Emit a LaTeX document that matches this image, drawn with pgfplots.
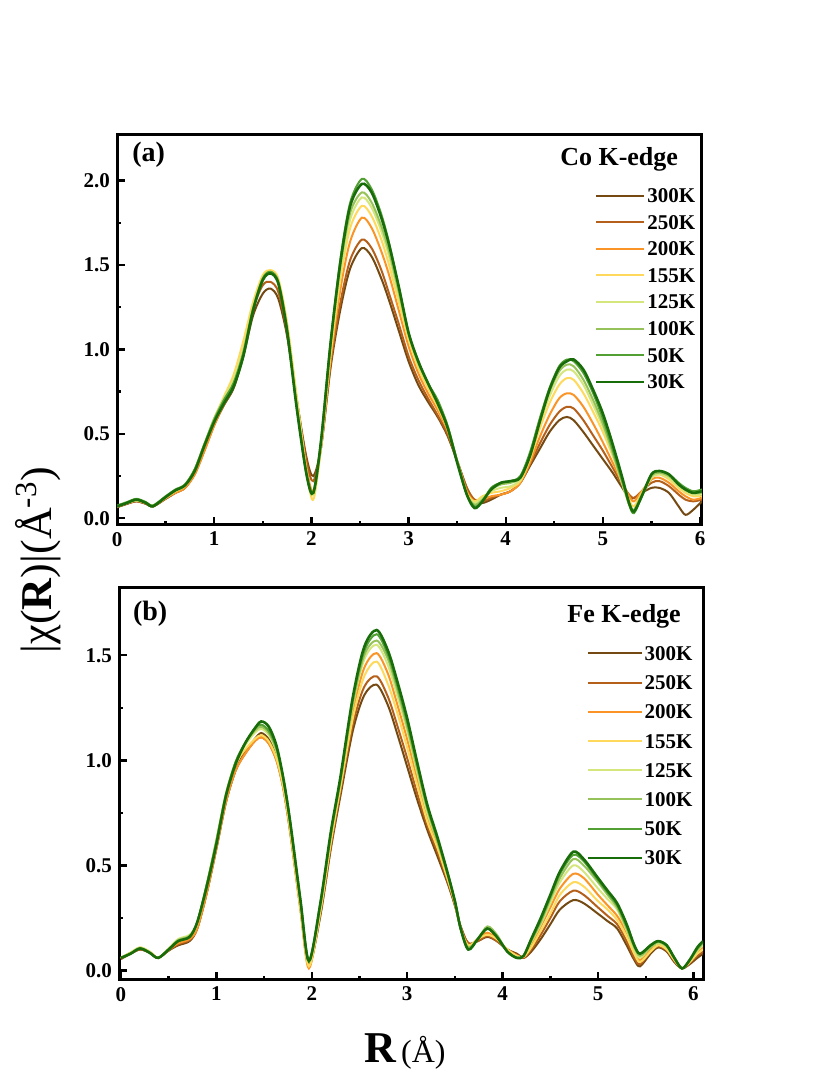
\documentclass[border=0pt]{standalone}
\usepackage{fontspec}
\setmainfont{Liberation Serif}
\usepackage{pgfplots}
\usepackage{pgfplotstable}
\pgfplotsset{compat=1.18}

\definecolor{k300}{HTML}{744A12}
\definecolor{k250}{HTML}{B5601A}
\definecolor{k200}{HTML}{FA9426}
\definecolor{k155}{HTML}{FFD95C}
\definecolor{k125}{HTML}{D5E67C}
\definecolor{k100}{HTML}{96C25A}
\definecolor{k50}{HTML}{52A034}
\definecolor{k30}{HTML}{186C0A}

% Co K-edge
\pgfplotstableread{
R s300 s250 s200 s155 s125 s100 s50 s30
0.00 0.065 0.065 0.07 0.07 0.07 0.07 0.075 0.07
0.10 0.085 0.085 0.09 0.09 0.09 0.09 0.095 0.09
0.20 0.10 0.10 0.105 0.105 0.105 0.11 0.115 0.11
0.30 0.085 0.085 0.09 0.09 0.09 0.09 0.095 0.09
0.37 0.07 0.07 0.07 0.075 0.075 0.075 0.075 0.07
0.50 0.115 0.115 0.12 0.12 0.125 0.125 0.13 0.125
0.60 0.15 0.15 0.15 0.16 0.16 0.165 0.17 0.165
0.70 0.18 0.18 0.18 0.19 0.195 0.20 0.20 0.195
0.80 0.27 0.26 0.26 0.28 0.29 0.29 0.29 0.28
0.90 0.41 0.40 0.40 0.43 0.44 0.44 0.44 0.43
1.00 0.56 0.55 0.55 0.59 0.59 0.59 0.58 0.57
1.10 0.67 0.67 0.68 0.72 0.71 0.70 0.70 0.68
1.20 0.77 0.78 0.80 0.85 0.82 0.80 0.80 0.78
1.30 0.96 0.98 1.00 1.05 1.00 0.98 0.98 0.96
1.40 1.20 1.24 1.26 1.28 1.25 1.24 1.24 1.23
1.50 1.33 1.38 1.42 1.44 1.42 1.42 1.42 1.41
1.58 1.36 1.40 1.46 1.47 1.46 1.45 1.46 1.45
1.66 1.30 1.34 1.40 1.42 1.40 1.40 1.40 1.39
1.75 1.08 1.10 1.14 1.16 1.13 1.12 1.12 1.11
1.85 0.70 0.70 0.70 0.72 0.68 0.67 0.66 0.65
1.95 0.36 0.34 0.30 0.28 0.27 0.27 0.26 0.26
2.02 0.25 0.22 0.16 0.11 0.14 0.15 0.15 0.15
2.10 0.42 0.42 0.42 0.42 0.44 0.45 0.46 0.46
2.20 0.90 0.92 0.95 0.98 1.02 1.04 1.05 1.05
2.30 1.24 1.28 1.36 1.42 1.46 1.50 1.54 1.52
2.40 1.48 1.53 1.64 1.72 1.77 1.81 1.87 1.85
2.52 1.60 1.65 1.78 1.85 1.90 1.93 2.01 1.98
2.62 1.55 1.60 1.72 1.79 1.84 1.87 1.95 1.93
2.72 1.42 1.47 1.58 1.65 1.70 1.73 1.80 1.78
2.80 1.29 1.33 1.44 1.50 1.55 1.58 1.63 1.62
2.90 1.11 1.15 1.23 1.28 1.32 1.34 1.37 1.37
3.00 0.93 0.96 1.02 1.06 1.08 1.09 1.10 1.10
3.10 0.79 0.82 0.86 0.89 0.91 0.92 0.93 0.93
3.20 0.69 0.71 0.74 0.77 0.79 0.80 0.80 0.80
3.30 0.60 0.61 0.64 0.66 0.69 0.69 0.70 0.68
3.40 0.49 0.50 0.52 0.53 0.55 0.55 0.55 0.54
3.50 0.34 0.34 0.34 0.34 0.34 0.34 0.34 0.33
3.60 0.18 0.18 0.16 0.15 0.14 0.14 0.14 0.14
3.68 0.10 0.11 0.10 0.10 0.09 0.08 0.07 0.06
3.76 0.09 0.10 0.11 0.13 0.12 0.11 0.10 0.10
3.85 0.11 0.12 0.13 0.15 0.16 0.17 0.18 0.17
3.95 0.14 0.14 0.14 0.16 0.18 0.20 0.21 0.21
4.05 0.16 0.16 0.16 0.18 0.19 0.21 0.22 0.22
4.15 0.21 0.21 0.21 0.22 0.23 0.24 0.25 0.24
4.25 0.31 0.32 0.33 0.35 0.37 0.38 0.39 0.37
4.35 0.41 0.44 0.48 0.53 0.56 0.58 0.59 0.57
4.45 0.51 0.55 0.61 0.68 0.72 0.75 0.77 0.76
4.55 0.58 0.63 0.71 0.79 0.84 0.87 0.90 0.89
4.63 0.60 0.66 0.74 0.83 0.88 0.91 0.94 0.93
4.70 0.58 0.65 0.73 0.82 0.87 0.90 0.93 0.94
4.80 0.51 0.58 0.66 0.74 0.79 0.82 0.86 0.88
4.90 0.43 0.49 0.56 0.63 0.67 0.70 0.74 0.76
5.00 0.35 0.40 0.45 0.51 0.54 0.56 0.59 0.62
5.10 0.27 0.30 0.33 0.37 0.38 0.39 0.41 0.44
5.20 0.18 0.20 0.21 0.21 0.20 0.21 0.22 0.24
5.27 0.12 0.14 0.13 0.11 0.08 0.09 0.08 0.09
5.32 0.12 0.12 0.10 0.07 0.04 0.05 0.03 0.04
5.40 0.15 0.16 0.16 0.15 0.13 0.14 0.13 0.13
5.50 0.18 0.21 0.23 0.24 0.24 0.25 0.26 0.26
5.58 0.18 0.22 0.24 0.26 0.26 0.27 0.28 0.28
5.68 0.15 0.19 0.21 0.23 0.24 0.25 0.26 0.26
5.78 0.07 0.14 0.16 0.18 0.19 0.20 0.21 0.20
5.85 0.02 0.11 0.13 0.15 0.16 0.17 0.18 0.17
5.93 0.05 0.10 0.11 0.13 0.14 0.15 0.16 0.15
6.02 0.10 0.11 0.12 0.13 0.14 0.15 0.17 0.16
}\cotable

% Fe K-edge
\pgfplotstableread{
R s300 s250 s200 s155 s125 s100 s50 s30
0.00 0.055 0.055 0.06 0.06 0.06 0.06 0.06 0.06
0.10 0.08 0.08 0.085 0.085 0.085 0.08 0.08 0.08
0.20 0.10 0.10 0.105 0.11 0.11 0.105 0.105 0.105
0.30 0.085 0.085 0.09 0.09 0.09 0.085 0.085 0.085
0.39 0.06 0.06 0.06 0.06 0.06 0.06 0.06 0.06
0.50 0.095 0.095 0.10 0.10 0.105 0.10 0.10 0.10
0.60 0.12 0.125 0.13 0.14 0.15 0.145 0.14 0.14
0.72 0.14 0.145 0.15 0.16 0.17 0.165 0.16 0.16
0.80 0.20 0.20 0.20 0.22 0.23 0.23 0.23 0.23
0.90 0.37 0.37 0.37 0.40 0.41 0.41 0.41 0.40
1.00 0.58 0.58 0.58 0.61 0.62 0.62 0.61 0.60
1.10 0.80 0.80 0.80 0.83 0.84 0.84 0.83 0.83
1.20 0.95 0.95 0.95 0.98 0.99 0.99 0.99 0.98
1.30 1.04 1.03 1.03 1.05 1.07 1.08 1.08 1.08
1.40 1.10 1.09 1.09 1.10 1.13 1.14 1.15 1.15
1.47 1.13 1.11 1.11 1.12 1.15 1.16 1.17 1.185
1.55 1.10 1.08 1.08 1.09 1.12 1.13 1.14 1.16
1.63 1.02 1.00 1.00 1.01 1.04 1.05 1.06 1.07
1.70 0.88 0.87 0.87 0.88 0.90 0.91 0.92 0.92
1.77 0.68 0.67 0.67 0.68 0.70 0.71 0.72 0.72
1.88 0.31 0.30 0.29 0.30 0.32 0.33 0.34 0.34
1.97 0.03 0.02 0.01 0.02 0.04 0.05 0.045 0.045
2.09 0.26 0.27 0.29 0.28 0.30 0.31 0.32 0.32
2.20 0.58 0.59 0.62 0.61 0.64 0.65 0.65 0.66
2.30 0.83 0.85 0.88 0.87 0.90 0.90 0.91 0.92
2.43 1.14 1.17 1.23 1.20 1.26 1.27 1.29 1.30
2.55 1.31 1.35 1.44 1.40 1.48 1.50 1.52 1.54
2.68 1.36 1.40 1.51 1.47 1.55 1.57 1.60 1.62
2.80 1.26 1.30 1.41 1.36 1.45 1.48 1.50 1.52
2.90 1.12 1.16 1.26 1.22 1.30 1.33 1.35 1.37
3.00 0.97 1.01 1.10 1.06 1.14 1.16 1.18 1.20
3.10 0.82 0.85 0.92 0.89 0.95 0.97 0.99 1.00
3.21 0.67 0.69 0.73 0.71 0.75 0.77 0.78 0.79
3.32 0.54 0.56 0.59 0.58 0.61 0.61 0.62 0.63
3.42 0.42 0.43 0.45 0.44 0.46 0.46 0.47 0.47
3.50 0.31 0.31 0.32 0.32 0.33 0.33 0.33 0.33
3.56 0.21 0.21 0.20 0.20 0.20 0.20 0.20 0.20
3.64 0.13 0.13 0.12 0.12 0.11 0.11 0.10 0.10
3.74 0.14 0.14 0.15 0.15 0.15 0.15 0.15 0.15
3.84 0.16 0.165 0.18 0.17 0.20 0.21 0.20 0.20
3.94 0.14 0.14 0.15 0.15 0.16 0.17 0.16 0.16
4.05 0.10 0.10 0.10 0.10 0.09 0.09 0.09 0.09
4.15 0.08 0.075 0.07 0.07 0.065 0.06 0.06 0.06
4.22 0.06 0.06 0.065 0.065 0.07 0.07 0.07 0.07
4.30 0.09 0.10 0.12 0.11 0.135 0.14 0.145 0.15
4.40 0.15 0.17 0.21 0.19 0.22 0.23 0.24 0.25
4.50 0.22 0.25 0.30 0.27 0.32 0.34 0.35 0.36
4.60 0.29 0.33 0.39 0.36 0.42 0.44 0.46 0.47
4.74 0.335 0.38 0.46 0.42 0.50 0.53 0.55 0.565
4.85 0.32 0.36 0.44 0.40 0.47 0.50 0.52 0.53
5.00 0.27 0.30 0.36 0.33 0.39 0.42 0.43 0.44
5.10 0.235 0.26 0.31 0.29 0.34 0.36 0.37 0.38
5.20 0.20 0.22 0.26 0.24 0.29 0.30 0.31 0.32
5.30 0.12 0.14 0.18 0.16 0.19 0.20 0.21 0.22
5.38 0.05 0.06 0.09 0.08 0.10 0.11 0.12 0.12
5.44 0.02 0.03 0.05 0.04 0.06 0.07 0.08 0.08
5.55 0.08 0.09 0.10 0.09 0.11 0.11 0.12 0.12
5.63 0.11 0.115 0.125 0.12 0.13 0.135 0.14 0.14
5.72 0.09 0.095 0.105 0.10 0.11 0.115 0.12 0.12
5.80 0.04 0.045 0.05 0.05 0.055 0.06 0.06 0.06
5.88 0.01 0.01 0.01 0.01 0.01 0.01 0.01 0.01
5.96 0.03 0.035 0.04 0.04 0.045 0.05 0.05 0.05
6.04 0.06 0.07 0.085 0.08 0.095 0.10 0.105 0.11
6.10 0.08 0.09 0.11 0.10 0.12 0.13 0.135 0.14
}\fetable

\pgfplotsset{
  chiaxis/.style={
    scale only axis,
    axis line style={line width=1.5pt},
    tick align=inside,
    xtick pos=left, ytick pos=left,
    major tick length=4pt, minor tick length=2.2pt,
    tick style={black, line width=1.2pt},
    minor x tick num=1, minor y tick num=1,
    xtick={0,1,2,3,4,5,6},
    /pgf/number format/assume math mode=true,
    ticklabel style={font=\fontsize{10.5}{12}\selectfont\bfseries},
    yticklabel style={/pgf/number format/.cd, fixed, fixed zerofill, precision=1},
    legend cell align=left,
    every axis plot/.append style={line width=1pt, smooth, tension=0.5, no marks},
  },
}

\begin{document}
\begin{tikzpicture}
\path[use as bounding box] (0pt,0pt) rectangle (415pt,537.5pt);

% (a) Co K-edge
\begin{axis}[chiaxis,
  at={(58.5pt,275pt)}, anchor=south west,
  width=292.5pt, height=195pt,
  xmin=0, xmax=6.02, ymin=-0.04, ymax=2.27,
  ytick={0,0.5,1.0,1.5,2.0},
  legend style={at={(0.817,0.874)}, anchor=north west, draw=none, fill=none,
    inner sep=0pt, row sep=2.3pt,
    nodes={inner sep=1pt, text height=8pt, text depth=1pt},
    font=\fontsize{10.5}{12}\selectfont\bfseries},
  legend image code/.code={\draw[#1, line width=1pt] (0pt,0pt) -- (24pt,0pt);},
]
\addplot[k300] table[x=R, y=s300] {\cotable}; \addlegendentry{300K}
\addplot[k250] table[x=R, y=s250] {\cotable}; \addlegendentry{250K}
\addplot[k200] table[x=R, y=s200] {\cotable}; \addlegendentry{200K}
\addplot[k155] table[x=R, y=s155] {\cotable}; \addlegendentry{155K}
\addplot[k125] table[x=R, y=s125] {\cotable}; \addlegendentry{125K}
\addplot[k100] table[x=R, y=s100] {\cotable}; \addlegendentry{100K}
\addplot[k50] table[x=R, y=s50] {\cotable}; \addlegendentry{50K}
\addplot[k30, line width=1.3pt] table[x=R, y=s30] {\cotable}; \addlegendentry{30K}
\node[anchor=base west, font=\fontsize{14}{16}\selectfont\bfseries] at (rel axis cs:0.014,0.931) {(a)};
\node[anchor=base east, font=\fontsize{13}{15}\selectfont\bfseries] at (rel axis cs:0.971,0.923) {Co K-edge};
\end{axis}

% (b) Fe K-edge
\begin{axis}[chiaxis,
  at={(59.5pt,47.5pt)}, anchor=south west,
  width=292pt, height=196pt,
  xmin=-0.02, xmax=6.1, ymin=-0.045, ymax=1.82,
  ytick={0,0.5,1.0,1.5},
  legend style={at={(0.80,0.862)}, anchor=north west, draw=none, fill=none,
    inner sep=0pt, row sep=3.6pt,
    nodes={inner sep=1pt, text height=8pt, text depth=1pt},
    font=\fontsize{10.5}{12}\selectfont\bfseries},
  legend image code/.code={\draw[#1, line width=1pt] (0pt,0pt) -- (27pt,0pt);},
]
\addplot[k300] table[x=R, y=s300] {\fetable}; \addlegendentry{300K}
\addplot[k250] table[x=R, y=s250] {\fetable}; \addlegendentry{250K}
\addplot[k200] table[x=R, y=s200] {\fetable}; \addlegendentry{200K}
\addplot[k155] table[x=R, y=s155] {\fetable}; \addlegendentry{155K}
\addplot[k125] table[x=R, y=s125] {\fetable}; \addlegendentry{125K}
\addplot[k100] table[x=R, y=s100] {\fetable}; \addlegendentry{100K}
\addplot[k50] table[x=R, y=s50] {\fetable}; \addlegendentry{50K}
\addplot[k30, line width=1.3pt] table[x=R, y=s30] {\fetable}; \addlegendentry{30K}
\node[anchor=base west, font=\fontsize{14}{16}\selectfont\bfseries] at (rel axis cs:0.012,0.918) {(b)};
\node[anchor=base east, font=\fontsize{13}{15}\selectfont\bfseries] at (rel axis cs:0.974,0.913) {Fe K-edge};
\end{axis}

% shared axis titles
\node[rotate=90, font=\fontsize{22}{24}\selectfont] at (19pt,257.5pt)
  {|χ(\textbf{R})|(Å\textsuperscript{-3})};
\node[anchor=base] at (202.5pt,6pt)
  {{\fontsize{22}{24}\selectfont\bfseries R} {\fontsize{16}{18}\selectfont (Å)}};
\end{tikzpicture}
\end{document}
